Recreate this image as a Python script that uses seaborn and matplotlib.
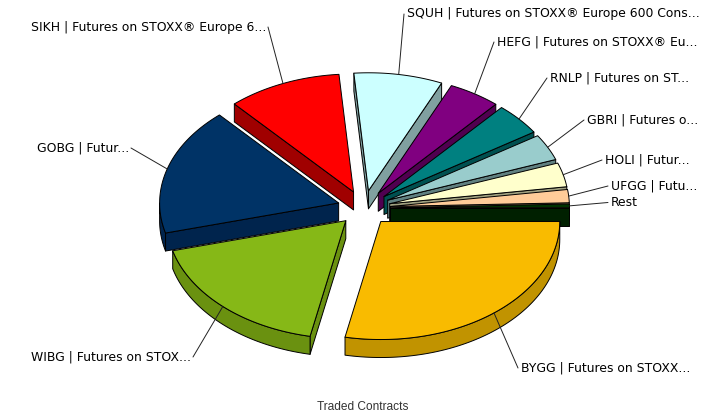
import numpy as np
import matplotlib
matplotlib.use('Agg')
import matplotlib.pyplot as plt
import seaborn as sns

# slices clockwise from 3 o'clock, share of traded contracts in %
labels = ['BYGG | Futures on STOXX...', 'WIBG | Futures on STOX...', 'GOBG | Futur...',
          'SIKH | Futures on STOXX® Europe 6...', 'SQUH | Futures on STOXX® Europe 600 Cons...',
          'HEFG | Futures on STOXX® Eu...', 'RNLP | Futures on ST...', 'GBRI | Futures o...',
          'HOLI | Futur...', 'UFGG | Futu...', 'Rest']
shares = [28.2, 17.7, 17.5, 10.3, 8.0, 4.7, 4.4, 3.6, 3.3, 1.8, 0.5]
top_colors = ['#F9BB00', '#86B817', '#003366', '#FF0000', '#CCFFFF', '#800080',
              '#008080', '#99CCCC', '#FFFFCC', '#FFCC99', '#003300']
side_colors = ['#C19300', '#6A9110', '#00244D', '#A00000', '#80A0A0', '#500050',
               '#005050', '#608080', '#A0A080', '#A08060', '#002000']
# where each leader line ends in the picture, and which side the text sits on
label_x = [518, 193, 131, 268, 404, 494, 547, 584, 602, 608, 608]
label_y = [368, 357, 148, 27, 14, 42, 78, 120, 160, 186, 202.5]
label_ha = ['left', 'right', 'right', 'right', 'left', 'left', 'left', 'left', 'left', 'left', 'left']

# back to front
draw_order = [3, 4, 5, 6, 7, 8, 9, 10, 2, 1, 0]

CX, CY = 364, 208
A, B = 179, 118
EXPLODE = 0.148
DEPTH = 18


def arc(x0, y0, t0, t1):
    t = np.radians(np.linspace(t0, t1, 80))
    return np.column_stack([x0 + A * np.cos(t), y0 + B * np.sin(t)])


def draw_slice(ax, x0, y0, t0, t1, top, side):
    kw = dict(edgecolor='black', linewidth=0.7, joinstyle='round')
    # radial walls, only those facing the viewer
    for t, visible in [(t0, np.cos(np.radians(t0)) < 0), (t1, np.cos(np.radians(t1)) > 0)]:
        if visible:
            px = x0 + A * np.cos(np.radians(t))
            py = y0 + B * np.sin(np.radians(t))
            ax.fill([x0, px, px, x0], [y0, py, py + DEPTH, y0 + DEPTH], facecolor=side, **kw)
    # outer rim in the front half
    a0, a1 = max(t0, 0), min(t1, 180)
    if a1 > a0:
        rim = arc(x0, y0, a0, a1)
        low = rim[::-1] + [0, DEPTH]
        poly = np.vstack([rim, low])
        ax.fill(poly[:, 0], poly[:, 1], facecolor=side, **kw)
    edge = arc(x0, y0, t0, t1)
    ax.fill(np.r_[x0, edge[:, 0]], np.r_[y0, edge[:, 1]], facecolor=top, **kw)


sns.set_theme(style='white')
plt.rcParams['font.family'] = ['DejaVu Sans']

fig, ax = plt.subplots(figsize=(7.23, 4.16), dpi=100)
ax.set_position([0, 0, 1, 1])
ax.set_xlim(0, 723)
ax.set_ylim(416, 0)
ax.axis('off')

ends = np.cumsum(shares) / np.sum(shares) * 360
starts = np.r_[0, ends[:-1]]
mids = (starts + ends) / 2
offs_x = CX + EXPLODE * A * np.cos(np.radians(mids))
offs_y = CY + EXPLODE * B * np.sin(np.radians(mids))

for i in draw_order:
    draw_slice(ax, offs_x[i], offs_y[i], starts[i], ends[i], top_colors[i], side_colors[i])

for i, name in enumerate(labels):
    sx = offs_x[i] + A * np.cos(np.radians(mids[i]))
    sy = offs_y[i] + B * np.sin(np.radians(mids[i]))
    ax.plot([sx, label_x[i]], [sy, label_y[i]], color='#222222', lw=0.7)
    gap = 3 if label_ha[i] == 'left' else -2
    ax.text(label_x[i] + gap, label_y[i], name, ha=label_ha[i], va='center',
            fontsize=8.95, color='black')

ax.text(363, 407, 'Traded Contracts', ha='center', va='center', fontsize=8.6,
        family='Liberation Sans', color='#333333')

fig.savefig('out.png', dpi=100)
